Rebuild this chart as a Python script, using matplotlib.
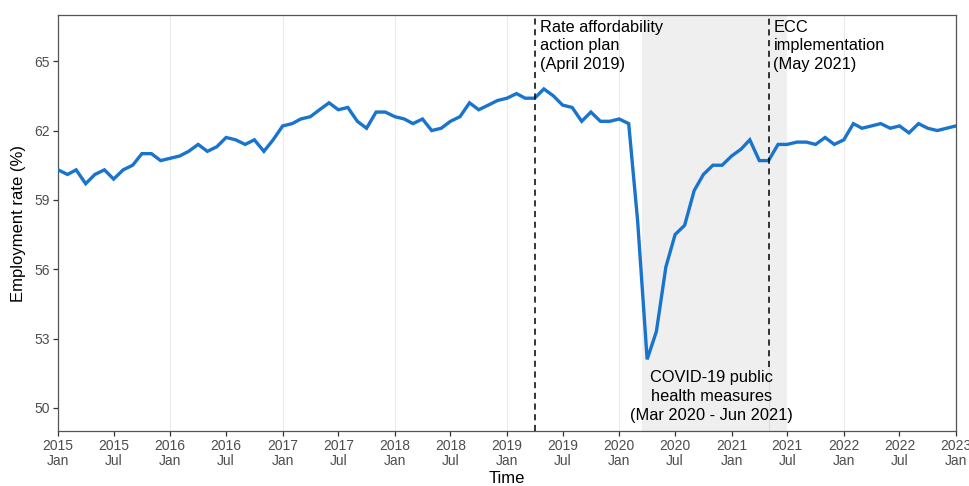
import matplotlib
matplotlib.use("Agg")
import matplotlib.pyplot as plt
import pandas as pd

plt.rcParams['font.family'] = ['Liberation Sans', 'DejaVu Sans']

# ---- data ----
start_month = "2015-01-01"
employment_rate = [
    60.3, 60.1, 60.3, 59.7, 60.1, 60.3, 59.9, 60.3, 60.5, 61.0, 61.0, 60.7,   # 2015
    60.8, 60.9, 61.1, 61.4, 61.1, 61.3, 61.7, 61.6, 61.4, 61.6, 61.1, 61.6,   # 2016
    62.2, 62.3, 62.5, 62.6, 62.9, 63.2, 62.9, 63.0, 62.4, 62.1, 62.8, 62.8,   # 2017
    62.6, 62.5, 62.3, 62.5, 62.0, 62.1, 62.4, 62.6, 63.2, 62.9, 63.1, 63.3,   # 2018
    63.4, 63.6, 63.4, 63.4, 63.8, 63.5, 63.1, 63.0, 62.4, 62.8, 62.4, 62.4,   # 2019
    62.5, 62.3, 58.1, 52.1, 53.3, 56.1, 57.5, 57.9, 59.4, 60.1, 60.5, 60.5,   # 2020
    60.9, 61.2, 61.6, 60.7, 60.7, 61.4, 61.4, 61.5, 61.5, 61.4, 61.7, 61.4,   # 2021
    61.6, 62.3, 62.1, 62.2, 62.3, 62.1, 62.2, 61.9, 62.3, 62.1, 62.0, 62.1,   # 2022
    62.2,                                                                     # 2023
]
dates = pd.date_range(start_month, periods=len(employment_rate), freq="MS")

tick_dates = pd.date_range("2015-01-01", "2023-01-01", freq="6MS")
tick_labels = [f"{d.year}\n{d.strftime('%b')}" for d in tick_dates]
grid_dates = pd.date_range("2015-01-01", "2023-01-01", freq="YS")
y_ticks = [50, 53, 56, 59, 62, 65]

event1_date = pd.Timestamp("2019-04-01")
event1_text = "Rate affordability\naction plan\n(April 2019)"
event2_date = pd.Timestamp("2021-05-01")
event2_text = "ECC\nimplementation\n(May 2021)"
covid_start = pd.Timestamp("2020-03-15")
covid_end = pd.Timestamp("2021-06-30")
covid_text = "COVID-19 public\nhealth measures\n(Mar 2020 - Jun 2021)"

# ---- figure ----
fig = plt.figure(figsize=(9.69, 4.86), dpi=100)
ax = fig.add_axes([58/969, 1-431/486, (956-58)/969, (431-15)/486])

y_min, y_max = 49, 67
ax.set_xlim(pd.Timestamp("2015-01-01"), pd.Timestamp("2023-01-01"))
ax.set_ylim(y_min, y_max)

for g in grid_dates:
    ax.axvline(g, color="#ebebeb", lw=0.8, zorder=0)

ax.axvspan(covid_start, covid_end, color="#efefef", lw=0, zorder=1)

ax.plot(dates, employment_rate, color="#1874CD", lw=2.4, zorder=3,
        solid_joinstyle="miter")

dash = (0, (4, 3))
ax.axvline(event1_date, color="black", lw=1.1, ls=dash, zorder=4)
# second event line stops above the COVID label
ax.plot([event2_date, event2_date], [51.75, y_max], color="black", lw=1.1,
        ls=dash, zorder=4)
ax.plot([event2_date, event2_date], [y_min, 51.75], color="#dcdcdc", lw=0.8,
        zorder=2)

txt_kw = dict(fontsize=11.8, color="black", linespacing=1.3)
ax.annotate(event1_text, xy=(event1_date, y_max), xytext=(3.5, -3.5),
            textcoords="offset points", ha="left", va="top", **txt_kw)
ax.annotate(event2_text, xy=(event2_date, y_max), xytext=(3.5, -3.5),
            textcoords="offset points", ha="left", va="top", **txt_kw)
covid_mid = covid_start + (covid_end - covid_start) / 2
ax.annotate(covid_text, xy=(covid_mid, y_min), xytext=(-2, 6),
            textcoords="offset points", ha="center", va="bottom", **txt_kw)

ax.set_xticks(tick_dates)
ax.set_xticklabels(tick_labels)
ax.set_yticks(y_ticks)
ax.tick_params(axis="both", colors="#333333", labelcolor="#4d4d4d",
               labelsize=10, length=3.5, width=0.9, pad=2.5)
for tl in ax.get_xticklabels():
    tl.set_linespacing(1.05)

for s in ax.spines.values():
    s.set_color("#555555")
    s.set_linewidth(0.9)

ax.set_xlabel("Time", fontsize=12, color="black", labelpad=2)
ax.set_ylabel("Employment rate (%)", fontsize=12, color="black", labelpad=6)

fig.savefig("out.png", dpi=100)
